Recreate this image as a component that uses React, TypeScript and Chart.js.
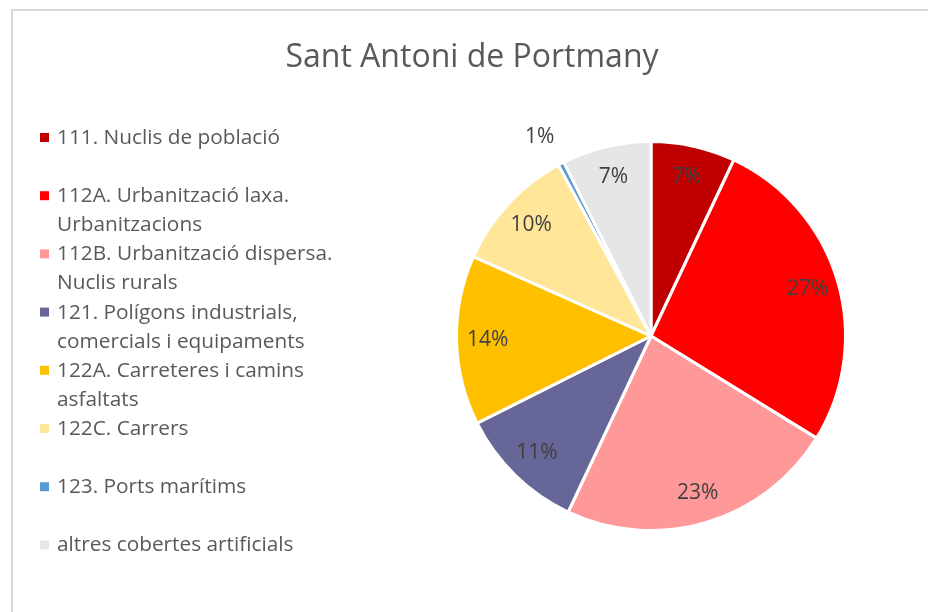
import React, { useEffect, useRef } from "react";
import { Chart, registerables } from "chart.js";

Chart.register(...registerables);

const TITLE = "Sant Antoni de Portmany";

const categories: string[][] = [
  ["111. Nuclis de població"],
  ["112A. Urbanització laxa.", "Urbanitzacions"],
  ["112B. Urbanització dispersa.", "Nuclis rurals"],
  ["121. Polígons industrials,", "comercials i equipaments"],
  ["122A. Carreteres i camins", "asfaltats"],
  ["122C. Carrers"],
  ["123. Ports marítims"],
  ["altres cobertes artificials"],
];

const values: number[] = [7.0, 26.8, 23.2, 10.6, 14.1, 10.4, 0.5, 7.4];

const colors: string[] = [
  "#C00000",
  "#FF0000",
  "#FF9999",
  "#666699",
  "#FFC000",
  "#FFE699",
  "#5B9BD5",
  "#E7E6E6",
];

const FONT = "'Open Sans', 'Noto Sans', sans-serif";
const TEXT_COLOR = "#595959";
const LABEL_COLOR = "#404040";

const decorPlugin = {
  id: "decor",
  beforeDraw(chart: any) {
    const ctx = chart.ctx as CanvasRenderingContext2D;
    ctx.save();
    ctx.fillStyle = "#FFFFFF";
    ctx.fillRect(0, 0, chart.width, chart.height);
    ctx.fillStyle = "#D9D9D9";
    ctx.fillRect(11, 9, chart.width, 2);
    ctx.fillRect(11, 9, 2, chart.height);
    // title
    ctx.fillStyle = TEXT_COLOR;
    ctx.font = `32px ${FONT}`;
    ctx.textAlign = "center";
    ctx.textBaseline = "alphabetic";
    ctx.fillText(TITLE, 472, 67);
    ctx.restore();
  },
  afterDraw(chart: any) {
    const ctx = chart.ctx as CanvasRenderingContext2D;
    const meta = chart.getDatasetMeta(0);
    const data: number[] = chart.data.datasets[0].data;
    const total = data.reduce((a, b) => a + b, 0);
    ctx.save();
    // data labels
    ctx.font = `21px ${FONT}`;
    ctx.fillStyle = LABEL_COLOR;
    ctx.textAlign = "center";
    ctx.textBaseline = "middle";
    meta.data.forEach((arc: any, i: number) => {
      const p = arc.getProps(["startAngle", "endAngle", "outerRadius", "x", "y"], true);
      const pct = (data[i] / total) * 100;
      const mid = (p.startAngle + p.endAngle) / 2;
      let r = p.outerRadius * 0.84;
      let ang = mid;
      if (pct < 2) {
        r = p.outerRadius * 1.17;
        ang = mid - 0.03;
      }
      const x = p.x + Math.cos(ang) * r;
      const y = p.y + Math.sin(ang) * r;
      ctx.fillText(`${Math.round(pct + 1e-9)}%`, x, y);
    });
    // legend
    const labels: string[][] = chart.data.labels;
    const bg: string[] = chart.data.datasets[0].backgroundColor;
    ctx.font = `20.8px ${FONT}`;
    ctx.textAlign = "left";
    ctx.textBaseline = "alphabetic";
    labels.forEach((lines, i) => {
      const base = 144 + i * 58.2;
      ctx.fillStyle = bg[i];
      ctx.fillRect(40, base - 11, 9, 9);
      ctx.fillStyle = TEXT_COLOR;
      lines.forEach((line, j) => {
        ctx.fillText(line, 57, base + j * 29);
      });
    });
    ctx.restore();
  },
};

export default function App() {
  const ref = useRef<HTMLCanvasElement | null>(null);
  useEffect(() => {
    if (!ref.current) return;
    const chart = new Chart(ref.current, {
      type: "pie",
      data: {
        labels: categories as any,
        datasets: [
          {
            data: values,
            backgroundColor: colors,
            borderColor: "#FFFFFF",
            borderWidth: 3,
          },
        ],
      },
      options: {
        responsive: false,
        animation: false,
        layout: { padding: { left: 455, right: 81, top: 140, bottom: 80 } },
        plugins: {
          legend: { display: false },
          title: { display: false },
          tooltip: { enabled: false },
        },
      },
      plugins: [decorPlugin],
    });
    return () => chart.destroy();
  }, []);
  return (
    <div style={{ position: "fixed", left: 0, top: 0, width: 928, height: 612 }}>
      <canvas ref={ref} width={928} height={612} style={{ display: "block" }} />
    </div>
  );
}
